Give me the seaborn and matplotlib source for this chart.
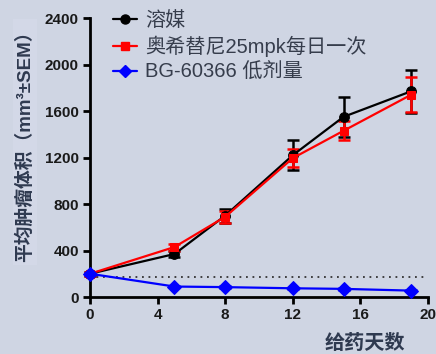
import numpy as np
import pandas as pd
import matplotlib
matplotlib.use("Agg")
import matplotlib.pyplot as plt
import seaborn as sns
from matplotlib.lines import Line2D

# Tumour growth data (mean ± SEM)
days = [0, 5, 8, 12, 15, 19]
group_names = ["溶媒", "奥希替尼25mpk每日一次", "BG-60366 低剂量"]
vehicle_mean = [200, 370, 700, 1220, 1550, 1770]
vehicle_sem = [15, 25, 60, 130, 170, 185]
osimertinib_mean = [200, 430, 690, 1195, 1430, 1740]
osimertinib_sem = [15, 30, 50, 80, 80, 150]
bg60366_mean = [200, 90, 85, 75, 70, 55]
bg60366_sem = [10, 8, 8, 6, 6, 5]
baseline = 175

x_ticks = [0, 4, 8, 12, 16, 20]
y_ticks = [0, 400, 800, 1200, 1600, 2000, 2400]

colors = ["#000000", "#FF0000", "#0000FF"]
markers = ["o", "s", "D"]
marker_sizes = [7, 5.8, 7]

df = pd.DataFrame({
    "day": days * 3,
    "volume": vehicle_mean + osimertinib_mean + bg60366_mean,
    "sem": vehicle_sem + osimertinib_sem + bg60366_sem,
    "group": sum([[g] * len(days) for g in group_names], []),
})

sns.set_theme(style="ticks")
plt.rcParams["font.family"] = ["Liberation Sans", "Noto Sans CJK SC"]

bg = "#CFD5E3"
fig = plt.figure(figsize=(4.36, 3.54), dpi=100, facecolor=bg)
ax = fig.add_axes([0.2064, 0.161, 0.7753, 0.788])
ax.set_facecolor(bg)

# draw order: red, black, blue (black sits over red)
draw_order = [1, 0, 2]
for i in draw_order:
    name = group_names[i]
    sub = df[df["group"] == name]
    ax.errorbar(sub["day"], sub["volume"], yerr=sub["sem"], fmt="none",
                ecolor=colors[i], elinewidth=1.8, capsize=4, capthick=1.8,
                clip_on=False, zorder=2 + i * 0.1)
    sns.lineplot(data=sub, x="day", y="volume", ax=ax, color=colors[i],
                 marker=markers[i], markersize=marker_sizes[i],
                 markeredgecolor=colors[i], linewidth=1.6, label=name,
                 clip_on=False, zorder=3 + i * 0.1, legend=False)

ax.plot([0, 19.9], [baseline, baseline], linestyle=(0, (1, 2.6)),
        color="#333333", linewidth=1.3, zorder=1)

leg_handles = [Line2D([0], [0], color=colors[i], marker=markers[i],
                      markersize=marker_sizes[i] - 0.5, linewidth=1.6)
               for i in range(3)]
leg = ax.legend(leg_handles, group_names, loc="upper left",
                bbox_to_anchor=(0.045, 1.055), frameon=False, fontsize=14.5,
                handlelength=1.2, handletextpad=0.4, labelspacing=0.3,
                borderaxespad=0)
for t in leg.get_texts():
    t.set_color("#363D4C")

ax.set_xlim(0, 20)
ax.set_ylim(0, 2400)
ax.set_xticks(x_ticks)
ax.set_yticks(y_ticks)
ax.tick_params(axis="both", direction="out", length=5, width=2,
               labelsize=11, pad=3, colors="#000000")
for lab in ax.get_xticklabels() + ax.get_yticklabels():
    lab.set_fontweight("bold")
    lab.set_color("#1A1A1A")
for s in ["top", "right"]:
    ax.spines[s].set_visible(False)
for s in ["left", "bottom"]:
    ax.spines[s].set_linewidth(2)
    ax.spines[s].set_color("#000000")
ax.set_xlabel("")
ax.set_ylabel("")

fig.text(25 / 436, 1 - 142 / 354, "平均肿瘤体积（mm³±SEM）", rotation=90,
         ha="center", va="center", fontsize=13.5, fontweight="bold",
         color="#2F3A50",
         bbox=dict(boxstyle="square,pad=0.15", facecolor="#D3D8E7",
                   edgecolor="none"))
fig.text(365 / 436, 1 - 343 / 354, "给药天数", ha="center", va="center",
         fontsize=14.5, fontweight="bold", color="#2F3A50")

fig.savefig("out.png", dpi=100, facecolor=bg)
